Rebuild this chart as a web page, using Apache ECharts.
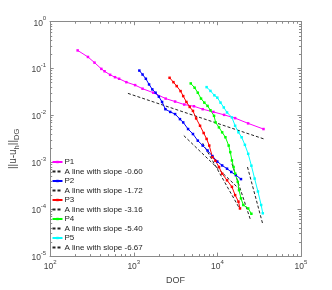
<!DOCTYPE html>
<html><head><meta charset="utf-8">
<script src="https://cdn.jsdelivr.net/npm/echarts@6/dist/echarts.min.js"></script>
<style>html,body{margin:0;padding:0;background:#fff}#c{width:332px;height:290px}</style>
</head><body><div id="c"></div>
<script>
// ---- data ----
const p1DOF = [213,283,339,409,447,521,596,668,815,1037,1273,1710,2404,3120,4010,5240,6670,8960,12030,16300,23300,35600];
const p1Err = [0.244,0.177,0.134,0.0986,0.0877,0.0736,0.0655,0.0606,0.0513,0.0444,0.0372,0.0306,0.0229,0.0198,0.0171,0.0157,0.0136,0.0119,0.0103,0.00877,0.00678,0.00513];
const p2DOF = [1165,1273,1394,1523,1665,1823,1994,2180,2388,2730,3120,3567,3900,4460,5100,5830,6670,7620,8720,9970,11400,13040,14640,16600,19140];
const p2Err = [0.0907,0.0747,0.0606,0.0459,0.036,0.0306,0.0252,0.0194,0.0136,0.0119,0.0107,0.00835,0.00711,0.00513,0.00402,0.0029,0.00228,0.00179,0.00136,0.00104,0.000859,0.000732,0.000624,0.000534,0.000439];
const p3DOF = [2680,2980,3260,3625,3900,4260,4665,5100,5570,6200,6850,7430,7990,8720,9460,10450,11400,13040,14920,16300,17860,18630];
const p3Err = [0.0636,0.0513,0.0423,0.0331,0.0259,0.0194,0.0152,0.0125,0.00865,0.00603,0.00422,0.00316,0.00228,0.00129,0.00108,0.000796,0.000574,0.000414,0.0003,0.0002,0.000145,0.000104];
const p4DOF = [4800,5340,5830,6370,6980,7620,8260,9120,9520,10440,11400,12470,13650,14260,14920,15600,16300,17530,18150,19150,20420,23350,25500];
const p4Err = [0.0482,0.0391,0.0306,0.0229,0.0188,0.016,0.0129,0.00981,0.00711,0.00557,0.00437,0.00343,0.00228,0.00165,0.0011,0.000796,0.000574,0.000384,0.000255,0.00017,0.000123,0.000104,0.00008];
const p5DOF = [7430,8260,9200,9970,10900,11930,13040,14920,16300,17860,19500,21330,23350,25510,27870,30540,33370,34910];
const p5Err = [0.0402,0.0334,0.0269,0.024,0.0188,0.0148,0.0116,0.00907,0.00603,0.00437,0.00343,0.00236,0.00152,0.000847,0.00045,0.000239,0.000123,0.0000819];
// reference lines: [DOF start, DOF end], [err start, err end]
const l1DOF = [851, 35900],  l1Err = [0.0296, 0.00316];
const l2DOF = [3970, 19140], l2Err = [0.00371, 0.000248];
const l3DOF = [6670, 18630], l3Err = [0.00256, 0.0000995];
const l4DOF = [14930, 25060], l4Err = [0.000933, 0.0000569];
const l5DOF = [22900, 34900], l5Err = [0.000796, 0.0000479];
const names = ['P1','A line with slope -0.60','P2','A line with slope -1.72','P3','A line with slope -3.16','P4','A line with slope -5.40','P5','A line with slope -6.67'];
const colors = ['#ff00ff','#0000ff','#ff0000','#00ff00','#00ffff'];
const xMinor = [200,300,400,500,600,700,800,900,2000,3000,4000,5000,6000,7000,8000,9000,20000,30000,40000,50000,60000,70000,80000,90000];
const yMinor = [];
[1e-5,1e-4,1e-3,1e-2,1e-1].forEach(d=>{for(let k=2;k<=9;k++) yMinor.push(+(d*k).toPrecision(3));});

const zip = (a,b)=>a.map((v,i)=>[v,b[i]]);
const FONT = 'Liberation Sans';
const axisCol = '#8a8a8a';
const supFmt = v => { const e = Math.round(Math.log10(v)); return '{b|10}{s|' + e + '}'; };
const rich = {b:{fontSize:8.5,color:'#444',fontFamily:FONT,lineHeight:12,verticalAlign:'bottom'},
              s:{fontSize:6,color:'#444',fontFamily:FONT,lineHeight:12,verticalAlign:'top'}};

function xax(pos, labels, minor){
  return {type:'log', logBase:10, min:100, max:100000, position:pos, gridIndex:0,
    axisLine:{show:true, lineStyle:{color:axisCol,width:1}},
    axisTick:minor?{show:true,inside:true,length:2,customValues:xMinor,lineStyle:{color:axisCol}}:{show:true,inside:true,length:3.5,lineStyle:{color:axisCol}},
    axisLabel:labels?{show:true,formatter:supFmt,rich:rich,margin:3}:{show:false},
    splitLine:{show:false}, minorTick:{show:false},
    name: labels?'DOF':'', nameLocation:'middle', nameGap:15,
    nameTextStyle:{fontSize:9,color:'#444',fontFamily:FONT}};
}
function yax(pos, labels, minor){
  return {type:'log', logBase:10, min:1e-5, max:1, position:pos, gridIndex:0,
    axisLine:{show:true, lineStyle:{color:axisCol,width:1}},
    axisTick:minor?{show:true,inside:true,length:2,customValues:yMinor,lineStyle:{color:axisCol}}:{show:true,inside:true,length:3.5,lineStyle:{color:axisCol}},
    axisLabel:labels?{show:true,formatter:supFmt,rich:rich,margin:4}:{show:false},
    splitLine:{show:false}, minorTick:{show:false},
    name: labels?'||u-u{sub|h}||{sub|DG}':'', nameLocation:'middle', nameGap:26, nameRotate:90,
    nameTextStyle:{fontSize:10,color:'#444',fontFamily:FONT,padding:[0,20,0,0],
      rich:{sub:{fontSize:7.5,color:'#444',fontFamily:FONT,verticalAlign:'bottom',lineHeight:15}}}};
}

const dataSets = [[p1DOF,p1Err],[p2DOF,p2Err],[p3DOF,p3Err],[p4DOF,p4Err],[p5DOF,p5Err]];
const lineSets = [[l1DOF,l1Err],[l2DOF,l2Err],[l3DOF,l3Err],[l4DOF,l4Err],[l5DOF,l5Err]];
const series = [];
for(let i=0;i<5;i++){
  series.push({name:names[2*i], type:'line', data:zip(dataSets[i][0],dataSets[i][1]),
    symbol:'rect', symbolSize:2.5, showSymbol:true, color:colors[i],
    lineStyle:{color:colors[i],width:1}, itemStyle:{color:colors[i]}, animation:false, z:3});
  series.push({name:names[2*i+1], type:'line', data:zip(lineSets[i][0],lineSets[i][1]),
    symbol:'circle', symbolSize:0, showSymbol:false, color:'#222',
    itemStyle:{opacity:0}, lineStyle:{color:'#222',width:1,type:[3,2]}, animation:false, z:2});
}
const legendData = names.map((n,i)=> i%2 ? {name:n, itemStyle:{opacity:0}} : {name:n});

const chart = echarts.init(document.getElementById('c'), null, {renderer:'canvas'});
chart.setOption({
  backgroundColor:'#fff',
  animation:false,
  grid:{left:43.5, right:31, top:21.7, bottom:31.7, containLabel:false},
  xAxis:[xax('bottom',true,false), xax('bottom',false,true), xax('top',false,false), xax('top',false,true)],
  yAxis:[yax('left',true,false), yax('left',false,true), yax('right',false,false), yax('right',false,true)],
  legend:{orient:'vertical', left:51.5, top:158, padding:0, itemWidth:10, itemHeight:3, itemGap:1.5,
    textStyle:{fontSize:8, color:'#222', fontFamily:FONT, lineHeight:8, padding:[0,0,0,-3]},
    data:legendData, selectedMode:false, backgroundColor:'transparent'},
  series:series
});
</script></body></html>
